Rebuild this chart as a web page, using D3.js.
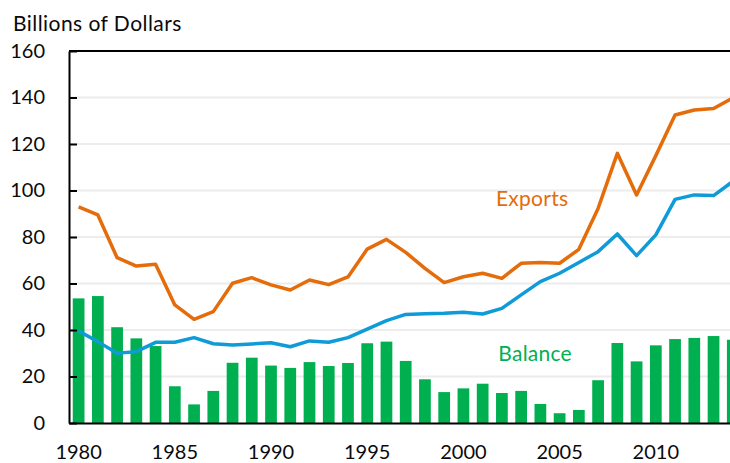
<!DOCTYPE html>
<html>
<head>
<meta charset="utf-8">
<script src="https://cdn.jsdelivr.net/npm/d3@7"></script>
<style>
  html, body { margin: 0; padding: 0; background: #fff; }
  svg { display: block; font-family: Lato, "Open Sans", sans-serif; }
</style>
</head>
<body>
<div id="chart"></div>
<script>
// Annual trade, billions of dollars, 1980-2014
const years = d3.range(1980, 2015);
const exportsVals = [93.0, 89.5, 71.1, 67.5, 68.3, 50.8, 44.6, 47.9, 60.1, 62.5,
  59.4, 57.2, 61.5, 59.5, 62.8, 74.8, 79.0, 73.4, 66.5, 60.4,
  62.9, 64.4, 62.2, 68.7, 69.0, 68.7, 74.7, 92.3, 116.0, 98.1,
  115.0, 132.5, 134.6, 135.3, 139.8];
const importsVals = [39.6, 35.0, 30.0, 30.7, 34.7, 34.7, 36.7, 34.1, 33.5, 34.0,
  34.5, 32.8, 35.3, 34.7, 36.7, 40.4, 44.0, 46.7, 47.0, 47.2,
  47.6, 46.9, 49.3, 55.1, 60.8, 64.4, 69.0, 73.7, 81.3, 72.0,
  80.9, 96.2, 98.1, 97.8, 103.9];
const balanceVals = [53.6, 54.6, 41.2, 36.4, 33.1, 15.8, 8.0, 13.8, 25.9, 28.1,
  24.7, 23.7, 26.2, 24.5, 25.8, 34.3, 35.0, 26.7, 18.8, 13.3,
  14.9, 16.9, 12.9, 13.8, 8.2, 4.2, 5.6, 18.4, 34.4, 26.5,
  33.4, 36.1, 36.6, 37.4, 35.8];
const yTicks = [0, 20, 40, 60, 80, 100, 120, 140, 160];
const xTickYears = [1980, 1985, 1990, 1995, 2000, 2005, 2010];

const W = 730, H = 463;
const LEFT = 69, TOP = 51, BOTTOM = 423, STEP = 19.24;
const RIGHT = LEFT + STEP * years.length; // plot runs past the picture edge

const orange = '#E46C0A', blue = '#0F9AD8', green = '#00B050', ink = '#0a0a0a';

const svg = d3.select('#chart').append('svg')
  .attr('width', W).attr('height', H).attr('viewBox', `0 0 ${W} ${H}`);

const x = d3.scaleBand().domain(years).range([LEFT, RIGHT])
  .paddingInner(0.39).paddingOuter(0.195);
const xc = (yr) => x(yr) + x.bandwidth() / 2;
const y = d3.scaleLinear().domain([0, 160]).range([BOTTOM, TOP]);

// gridlines
svg.append('g').selectAll('line').data(yTicks.filter((t) => t > 0 && t < 160)).join('line')
  .attr('x1', LEFT).attr('x2', RIGHT).attr('y1', (d) => y(d)).attr('y2', (d) => y(d))
  .attr('stroke', '#ececec').attr('stroke-width', 2);

// balance bars
svg.append('g').selectAll('rect').data(years).join('rect')
  .attr('x', (d) => x(d)).attr('width', x.bandwidth())
  .attr('y', (d, i) => y(balanceVals[i]))
  .attr('height', (d, i) => y(0) - y(balanceVals[i]))
  .attr('fill', green);

// lines
const line = (vals) => d3.line().x((d, i) => xc(years[i])).y((d) => y(d))(vals);
svg.append('path').attr('d', line(importsVals)).attr('fill', 'none')
  .attr('stroke', blue).attr('stroke-width', 3.5).attr('stroke-linejoin', 'round');
svg.append('path').attr('d', line(exportsVals)).attr('fill', 'none')
  .attr('stroke', orange).attr('stroke-width', 3.5).attr('stroke-linejoin', 'round');

// frame: top edge of the plot area
svg.append('line').attr('x1', LEFT).attr('x2', RIGHT).attr('y1', TOP).attr('y2', TOP)
  .attr('stroke', '#000').attr('stroke-width', 2);

// y axis with inward ticks
const yAxis = svg.append('g').attr('transform', `translate(${LEFT},0)`)
  .call(d3.axisRight(y).tickValues(yTicks).tickSize(8).tickSizeOuter(0).tickFormat(d3.format('d')));
yAxis.select('.domain').attr('stroke', '#000').attr('stroke-width', 2);
yAxis.selectAll('.tick line').attr('stroke', '#000').attr('stroke-width', 2);
yAxis.selectAll('.tick text').attr('x', -24).attr('text-anchor', 'end')
  .attr('font-size', 20).attr('fill', ink).attr('font-family', 'Lato, sans-serif');

// x axis
const xAxis = svg.append('g').attr('transform', `translate(0,${BOTTOM})`)
  .call(d3.axisBottom(x).tickValues(xTickYears).tickSize(0).tickSizeOuter(0));
xAxis.select('.domain').attr('stroke', '#000').attr('stroke-width', 2);
xAxis.selectAll('.tick text').attr('y', 22).attr('font-size', 20).attr('fill', ink)
  .attr('font-family', 'Lato, sans-serif');

// titles and series labels
svg.append('text').attr('x', 13).attr('y', 31).attr('font-size', 21).attr('letter-spacing', 0.45)
  .attr('fill', ink).text('Billions of Dollars');
svg.append('text').attr('x', xc(2003) + 11).attr('y', y(93.5)).attr('text-anchor', 'middle')
  .attr('font-size', 21).attr('letter-spacing', 0.25).attr('fill', orange).text('Exports');
svg.append('text').attr('x', xc(2003) + 14).attr('y', y(26.7)).attr('text-anchor', 'middle')
  .attr('font-size', 21).attr('letter-spacing', 0.25).attr('fill', green).text('Balance');
</script>
</body>
</html>
